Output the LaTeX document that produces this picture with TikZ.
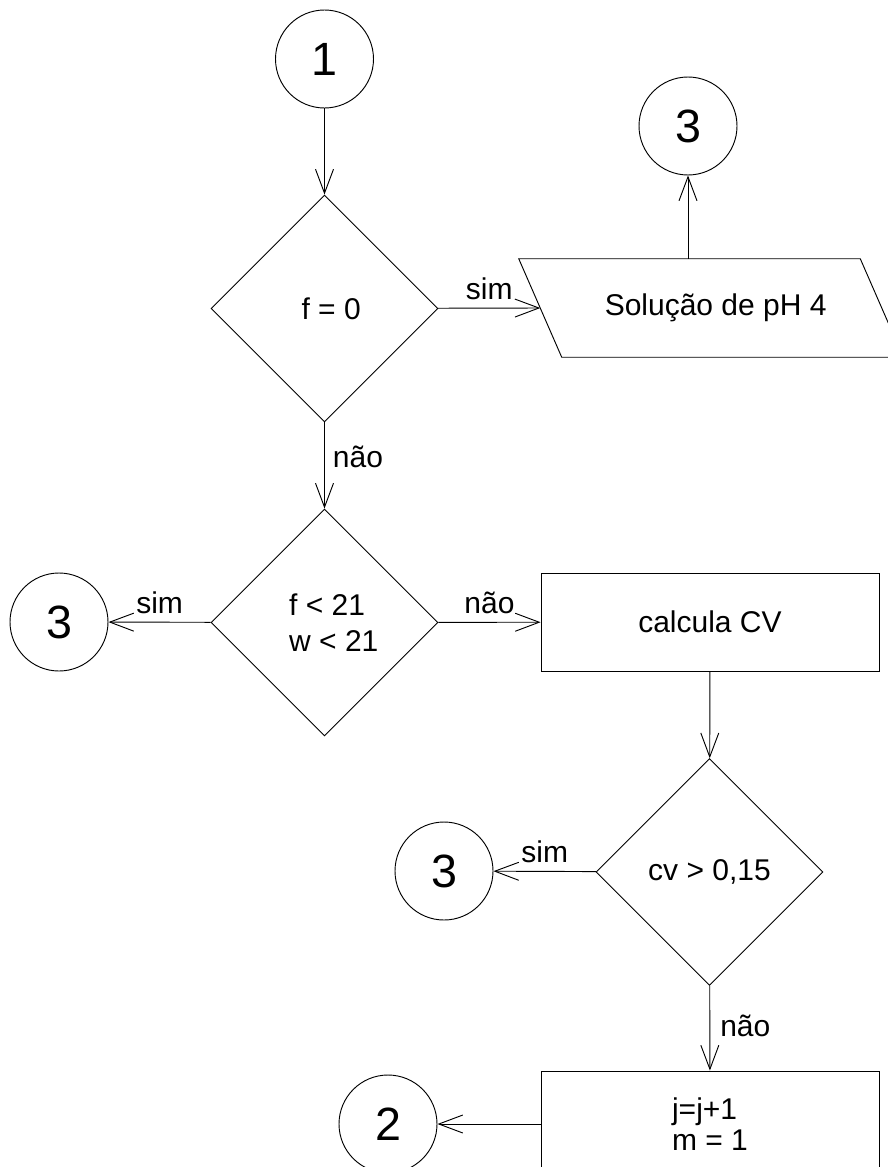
\documentclass[tikz,border=0pt]{standalone}
\usepackage{fontspec}
\setmainfont{Liberation Sans}
\usetikzlibrary{shapes.geometric,arrows.meta}

\begin{document}
\begin{tikzpicture}[
  x=0.75pt, y=-0.75pt,
  every node/.style={font=\fontsize{22.5}{27}\selectfont},
  line/.style={line width=0.7pt},
  arr/.style={line, -{Straight Barb[length=18pt,width=13.5pt]}},
  conn/.style={draw, circle, line width=0.7pt, minimum size=73.5pt, inner sep=0pt,
               font=\fontsize{35}{38}\selectfont},
  decision/.style={draw, diamond, aspect=1, line width=0.7pt, minimum width=170.25pt,
                   minimum height=170.25pt, inner sep=0pt, align=left},
  process/.style={draw, rectangle, line width=0.7pt, minimum width=253.5pt,
                  minimum height=73.5pt, inner sep=0pt, align=left},
  lbl/.style={inner sep=0pt},
]
% page
\path[use as bounding box, fill=white] (0,0) rectangle (888,1167);

% connectors (circles)
\node[conn] (c1)  at (324.5,59)  {1};
\node[conn] (c3a) at (688,126)   {3};
\node[conn] (c3b) at (59,622)    {3};
\node[conn] (c3c) at (444,871)   {3};
\node[conn] (c2)  at (388,1124)  {2};

% decisions
\node[decision] (d1) at (324.5,308.5) {\hspace*{10pt}f = 0};
\node[decision] (d2) at (324.5,622.5) {\hspace*{14pt}f < 21\\\hspace*{14pt}w < 21};
\node[decision] (d3) at (709.5,872)   {cv > 0,15};

% input/output block
\node[minimum width=255.75pt, minimum height=73.5pt, inner sep=0pt] (io) at (711,308) {\hspace*{7pt}Solução de pH 4};
\draw[line] ([xshift=-16.125pt]io.north west) -- ([xshift=-16.125pt]io.north east)
  -- ([xshift=16.125pt]io.south east) -- ([xshift=16.125pt]io.south west) -- cycle;

% processes
\node[process] (r1) at (710,622) {calcula CV};
\node[process, minimum height=79.5pt, font=\fontsize{22.5}{23.5}\selectfont] (r2) at (710,1124) {j=j+1\\m = 1};

% flow
\draw[arr] (c1) -- (d1);
\draw[arr] (d1) -- node[lbl, above=6pt] {sim} (io.west);
\draw[arr] (c3a |- io.north) -- (c3a);
\draw[arr] (d1) -- node[lbl, right=6pt, pos=0.4] {não} (d2);
\draw[arr] (d2) -- node[lbl, above=6pt] {sim} (c3b);
\draw[arr] (d2) -- node[lbl, above=6pt] {não} (r1);
\draw[arr] (r1) -- (d3);
\draw[arr] (d3) -- node[lbl, above=6pt] {sim} (c3c);
\draw[arr] (d3) -- node[lbl, right=7.5pt, pos=0.47] {não} (r2);
\draw[arr] (r2) -- (c2);
\end{tikzpicture}
\end{document}
